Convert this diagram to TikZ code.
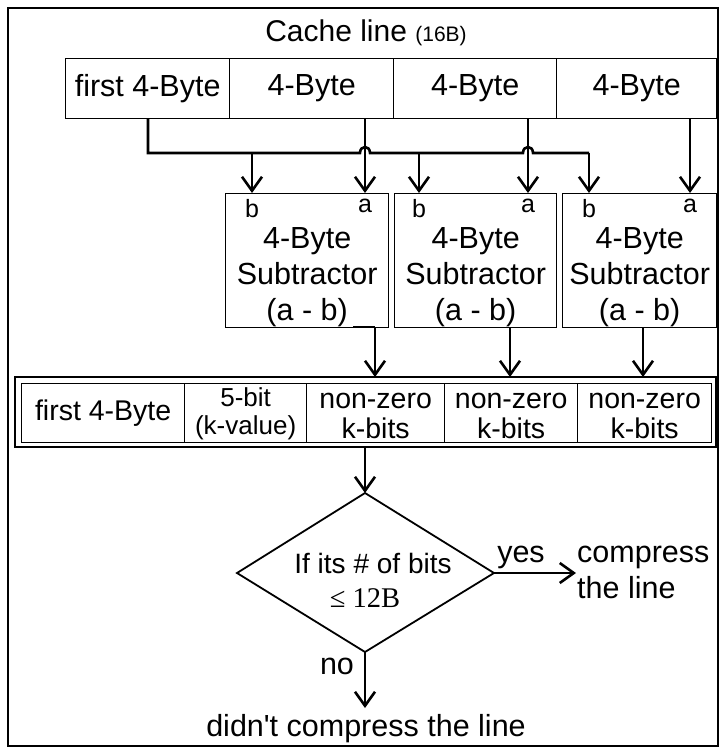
\documentclass[tikz,border=0pt]{standalone}
\usepackage{fontspec}
\setmainfont{Liberation Sans}
\newfontfamily\plainsans{Liberation Sans}
\newfontfamily\serifface{Liberation Serif}
\usetikzlibrary{arrows.meta,calc}

\tikzset{
  frame/.style={draw, line width=2pt},
  cell/.style={draw, line width=1.3pt, inner sep=0pt, anchor=north west},
  txt/.style={inner sep=0pt, font=\fontsize{30.5}{34}\selectfont},
  rowtxt/.style={inner sep=0pt, font=\fontsize{28.5}{33}\selectfont},
  lbl/.style={inner sep=0pt, font=\fontsize{25}{28}\selectfont},
  mid/.style={inner sep=0pt, font=\fontsize{26}{30}\selectfont},
  wire/.style={line width=2.6pt},
  arr/.style={line width=2.6pt, -{Straight Barb[length=14pt,width=20pt]}},
}

\begin{document}
\begin{tikzpicture}[x=1pt,y=-1pt]
\useasboundingbox (0,0) rectangle (720,752);
\draw[frame] (8,8) rectangle (718,746);

% cache line header
\node[inner sep=0pt, anchor=base, font=\fontsize{30}{34}\selectfont] (title) at (366,42)
  {Cache line {\fontsize{21}{24}\selectfont(16B)}};

% the four words of the line
\node[cell, minimum width=164, minimum height=60] (w1) at (65,58) {};
\node[cell, minimum width=164, minimum height=60] (w2) at (229,58) {};
\node[cell, minimum width=163, minimum height=60] (w3) at (393,58) {};
\node[cell, minimum width=160, minimum height=60] (w4) at (556,58) {};
\node[txt] (w1t) at (w1) {first 4-Byte};
\node[txt] (w2t) at (w2) {4-Byte};
\node[txt] (w3t) at (w3) {4-Byte};
\node[txt] (w4t) at (w4) {4-Byte};

% subtractors with their b and a inputs
\foreach \n/\xl/\w/\bx/\ax in {s1/225/163/252/365, s2/394/162/419/528, s3/562/154/589/690}{
  \node[cell, minimum width=\w, minimum height=134] (\n) at (\xl,193) {};
  \node[txt, anchor=base] (\n-l1) at ($(\n.north)+(0,55)$) {4-Byte};
  \node[txt, anchor=base] (\n-l2) at ($(\n.north)+(0,91)$) {Subtractor};
  \node[txt, anchor=base] (\n-l3) at ($(\n.north)+(0,127)$) {(a - b)};
  \node[lbl, anchor=base] (\n-b) at (\bx,217) {b};
  \node[lbl, anchor=base] (\n-a) at (\ax,212) {a};
  \coordinate (\n-ib) at (\bx,193);
  \coordinate (\n-ia) at (\ax,193);
}

% taps under the words
\coordinate (w1o) at (148,118);
\coordinate (w2o) at (365,118);
\coordinate (w3o) at (528,118);
\coordinate (w4o) at (690,118);
\coordinate (bus0) at (148,153);
\coordinate (bus1) at (589,153);

% shared bus carrying the first word, hopping over the other taps
\draw[wire, line join=miter] (w1o) -- (bus0) -- (360,153)
  .. controls (360,145) and (370,145) .. (370,153) -- (523,153)
  .. controls (523,145) and (533,145) .. (533,153) -- (bus1);
\draw[arr] (252,153) -- (s1-ib);
\draw[arr] (419,153) -- (s2-ib);
\draw[arr] (bus1) -- (s3-ib);
\draw[arr] (w2o) -- (s1-ia);
\draw[arr] (w3o) -- (s2-ia);
\draw[arr] (w4o) -- (s3-ia);

% packed result
\draw[line width=2.8pt] (15,377) rectangle (716,447);
\node[cell, minimum width=163, minimum height=59] (r1) at (21,383) {};
\node[cell, minimum width=122, minimum height=59] (r2) at (184,383) {};
\node[cell, minimum width=138, minimum height=59] (r3) at (306,383) {};
\node[cell, minimum width=133, minimum height=59] (r4) at (444,383) {};
\node[cell, minimum width=134, minimum height=59] (r5) at (577,383) {};
\node[rowtxt] (r1t) at (r1) {first 4-Byte};
\node[mid, anchor=base] (r2a) at ($(r2.north)+(0,23)$) {5-bit};
\node[mid, anchor=base] (r2b) at ($(r2.north)+(0,51)$) {(k-value)};
\foreach \r in {r3,r4,r5}{
  \node[rowtxt, anchor=base] (\r-a) at ($(\r.north)+(0,25)$) {non-zero};
  \node[rowtxt, anchor=base] (\r-b) at ($(\r.north)+(0,55)$) {k-bits};
}

% subtractor outputs into the packed fields
\coordinate (s1o) at (353,327);
\draw[wire] (s1o) -- (375,327);
\draw[arr] (375,327) -- (375,377);
\draw[arr] (510,327) -- (510,377);
\draw[arr] (643,327) -- (643,377);

% size check
\coordinate (d0) at (365,447);
\draw[line width=1.8pt, line join=miter] (365,493) coordinate (dt) -- (494,573) coordinate (dr)
  -- (365,652) coordinate (db) -- (237,573) coordinate (dl) -- cycle;
\draw[arr] (d0) -- (dt);
\node[inner sep=0pt, anchor=base, font=\fontsize{28}{30}\selectfont] (q1) at (373,573) {If its \# of bits};
\node[inner sep=0pt, anchor=base, font=\serifface\fontsize{28.5}{30}\selectfont] (q2) at (365,607) {≤ 12B};

% outcomes
\coordinate (yes) at (576,573);
\draw[arr] (dr) -- (yes);
\node[txt, anchor=base] (yl) at (521,562) {yes};
\node[txt, anchor=base west] (c1) at (577,562) {compress};
\node[txt, anchor=base west] (c2) at (577,598) {the line};

\coordinate (no) at (365,708);
\draw[arr] (db) -- (no);
\node[txt, anchor=base] (nl) at (337,674) {no};
\node[txt, anchor=base] (dn) at (366,736) {\plainsans didn't compress the line};
\end{tikzpicture}
\end{document}
